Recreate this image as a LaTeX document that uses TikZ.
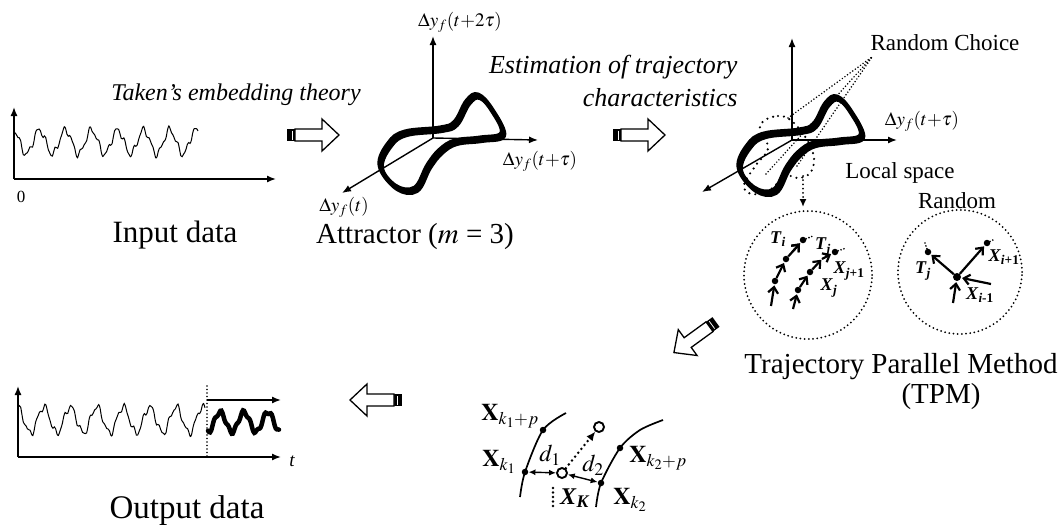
\documentclass[tikz,border=0pt]{standalone}
\usepackage{mathptmx}
\usepackage{fontspec}
\setmainfont{Liberation Serif}
\usetikzlibrary{arrows.meta,calc}

\newcommand{\attractorpath}{plot[smooth cycle,tension=0.65] coordinates {(380,165) (389,143) (405,132) (440,128) (455,122) (467,101) (478,95) (492,110) (502,133) (480,138) (455,141) (440,150) (428,165) (415,188) (395,186)}}

\begin{document}
\begin{tikzpicture}[x=1pt,y=-1pt,
  axis/.style={-{Latex[length=9pt,width=7pt]},line width=1.4pt},
  traj/.style={line width=5pt,line join=round},
  wave/.style={line width=1pt,smooth},
  dots/.style={line width=2pt,line cap=round,dash pattern=on 0pt off 4.2pt},
  tarr/.style={-{Straight Barb[length=6pt,width=10pt,line width=2.2pt]},line width=2.2pt,shorten >=1pt},
  dblarr/.style={{Latex[length=7pt,width=6pt]}-{Latex[length=7pt,width=6pt]},line width=1.4pt},
  pt/.style={circle,fill,inner sep=0pt,minimum size=6.5pt},
  opt/.style={circle,draw,line width=1.9pt,fill=white,inner sep=0pt,minimum size=10pt},
  bigtxt/.style={font=\fontsize{29}{31}\selectfont},
  ittxt/.style={font=\fontsize{24}{33}\selectfont\itshape},
  smtxt/.style={font=\fontsize{23}{25}\selectfont},
  axlbl/.style={font=\fontsize{19}{20}\selectfont},
  ptlbl/.style={font=\fontsize{18}{19}\selectfont,inner sep=0pt},
  xlbl/.style={font=\fontsize{24}{25}\selectfont,inner sep=0pt},
  blockarr/.pic={
    \fill (0,-6) rectangle (8,6);
    \draw[white,line width=0.8pt] (5,-4.5) -- (5,4.5);
    \draw[line width=1.3pt,fill=white,line join=miter] (8,-6) -- (35,-6) -- (35,-16) -- (52,0) -- (35,16) -- (35,6) -- (8,6) -- cycle;
  },
]
\useasboundingbox (0,0) rectangle (1061,525);

% === Input data ===
\coordinate (in0) at (14,179);
\coordinate (inY) at (14,107);
\coordinate (inX) at (276,179);
\draw[axis] (in0) -- (inY);
\draw[axis] (in0) -- (inX);
\draw[wave] plot[domain=14:198,samples=140] (\x,{142-12*sin(13.8*(\x-14)+100)-3*sin(41*\x)-1.5*sin(73*\x+30)});
\node[font=\fontsize{17}{18}\selectfont] (zero) at (21,197) {0};
\node[bigtxt,font=\fontsize{31}{33}\selectfont] (input) at (175,235) {Input data};

% === Takens step ===
\node[ittxt] (takens) at (236,95) {Taken's embedding theory};
\pic at (287,135) {blockarr};

% === Attractor (m = 3) ===
\coordinate (o1) at (433,138);
\coordinate (o1y) at (433,36);
\coordinate (o1x) at (538,140);
\coordinate (o1z) at (342,193);
\draw[axis] (o1) -- (o1y);
\draw[axis] (o1) -- (o1x);
\draw[axis] (o1) -- (o1z);
\draw[traj] \attractorpath;
\draw[traj,line width=4pt,shift={(2,3)}] \attractorpath;
\node[axlbl] (ax2t) at (460,22) {$\Delta y_f(t{+}2\tau)$};
\node[axlbl] (ax1t) at (540,161) {$\Delta y_f(t{+}\tau)$};
\node[axlbl] (ax0t) at (344,207) {$\Delta y_f(t)$};
\node[bigtxt] (attr) at (415,237) {Attractor ($m$ = 3)};

% === Estimation step ===
\node[ittxt,font=\fontsize{26}{33}\selectfont\itshape,align=right,anchor=east] (estim) at (741,81) {Estimation of trajectory\\characteristics};
\pic at (613,135) {blockarr};

% === Local space on the attractor ===
\begin{scope}[shift={(359,2)}]
\coordinate (o2) at (433,138);
\coordinate (o2y) at (433,36);
\coordinate (o2x) at (538,138);
\coordinate (o2z) at (343,190);
\draw[axis] (o2) -- (o2y);
\draw[axis] (o2) -- (o2x);
\draw[axis] (o2) -- (o2z);
\draw[traj] \attractorpath;
\draw[traj,line width=4pt,shift={(2,3)}] \attractorpath;
\end{scope}
\coordinate (apex) at (872,57);
\draw[dots,line width=1.7pt,dash pattern=on 0pt off 3.2pt] (788,118) -- (apex);
\draw[dots,line width=1.7pt,dash pattern=on 0pt off 3.2pt] (766,174) -- (apex);
\draw[dots,line width=1.7pt,dash pattern=on 0pt off 3.2pt] (797,166) -- (apex);
\draw[dots,line width=2.4pt,dash pattern=on 0pt off 6pt] plot[smooth cycle,tension=0.7] coordinates {(760,126) (778,116) (795,124) (812,150) (812,170) (800,178) (785,176) (770,190) (752,194) (744,185) (756,165) (768,148)};
\coordinate (locA) at (803,176);
\coordinate (locB) at (803,207);
\draw[dots,-{Latex[length=8pt,width=7pt]}] (locA) -- (locB);
\node[axlbl] (ax1r) at (922,121) {$\Delta y_f(t{+}\tau)$};
\node[smtxt] (rchoice) at (945,43) {Random Choice};
\node[smtxt] (local) at (900,173) {Local space};
\node[smtxt] (random) at (957,201) {Random};

% === TPM circles ===
\node[draw,dots,circle,minimum size=128pt] (cirL) at (808,275) {};
\node[draw,dots,circle,minimum size=124pt] (cirR) at (960,272) {};
% left circle: two parallel trajectories
\coordinate (i0) at (771,306);
\node[pt] (i1) at (775,281) {};
\node[pt] (i2) at (786,259) {};
\node[pt] (i3) at (803,240) {};
\draw[tarr] (i0) -- (i1);
\draw[tarr] (i1) -- (i2);
\draw[tarr] (i2) -- (i3);
\draw[tarr] ($(i2)!0.4!(i3)$) -- (i3);
\draw[dots,line width=1.8pt,dash pattern=on 0pt off 3pt] (i3) -- ++(10,-4);
\coordinate (j0) at (793,309);
\node[pt] (j1) at (798,290) {};
\node[pt] (j2) at (810,272) {};
\coordinate (j3) at (822,259);
\node[pt] (j4) at (835,252) {};
\draw[tarr] (j0) -- (j1);
\draw[tarr] (j1) -- (j2);
\draw[tarr] (j2) -- (j3);
\draw[tarr] (j3) -- (j4);
\draw[dots,line width=1.8pt,dash pattern=on 0pt off 3pt] (j4) -- ++(11,-4);
\node[ptlbl] (Ti) at (778,239) {\textbf{\textit{T}}\textsubscript{\textbf{\textit{i}}}};
\node[ptlbl] (Tj) at (823,247) {\textbf{\textit{T}}\textsubscript{\textbf{\textit{j}}}};
\node[ptlbl] (Xj1) at (849,271) {\textbf{\textit{X}}\textsubscript{\textbf{\textit{j}+1}}};
\node[ptlbl] (Xj) at (829,288) {\textbf{\textit{X}}\textsubscript{\textbf{\textit{j}}}};
% right circle: random neighbours
\node[pt,minimum size=8pt] (c0) at (957,277) {};
\node[pt] (cT) at (928,252) {};
\node[pt] (cX) at (987,243) {};
\coordinate (cR) at (991,284);
\coordinate (cB) at (953,303);
\draw[tarr] (c0) -- (cT);
\draw[tarr] (c0) -- (cX);
\draw[tarr] (cR) -- (c0);
\draw[tarr] (cB) -- (c0);
\draw[dots,line width=1.8pt,dash pattern=on 0pt off 3pt] (cT) -- ++(-3,-9);
\draw[dots,line width=1.8pt,dash pattern=on 0pt off 3pt] (cX) -- ++(6,-3);
\node[ptlbl] (Tj2) at (923,271) {\textbf{\textit{T}}\textsubscript{\textbf{\textit{j}}}};
\node[ptlbl] (Xi1) at (1004,257) {\textbf{\textit{X}}\textsubscript{\textbf{\textit{i}+1}}};
\node[ptlbl] (Xim) at (980,295) {\textbf{\textit{X}}\textsubscript{\textbf{\textit{i}-1}}};
\node[bigtxt] (tpm) at (901,367) {Trajectory Parallel Method};
\node[bigtxt] (tpmb) at (941,397) {(TPM)};

\pic[rotate=216] at (716,322) {blockarr};

% === Prediction from neighbours ===
\draw[line width=1.7pt] plot[smooth] coordinates {(520,497) (525,472) (543,430) (566,413)};
\draw[line width=1.7pt] plot[smooth] coordinates {(596,507) (601,483) (620,448) (640,430) (663,420)};
\node[pt] (k1) at (525,472) {};
\node[pt] (k1p) at (543,430) {};
\node[pt] (k2) at (601,483) {};
\node[pt] (k2p) at (620,448) {};
\node[opt] (XK) at (562,473) {};
\node[opt] (Xnext) at (599,427) {};
\draw[dots,line width=2.8pt,dash pattern=on 0pt off 5pt,-{Latex[length=9pt,width=8pt]}] (XK) -- (Xnext);
\coordinate (kin0) at (553,488);
\coordinate (kin1) at (553,507);
\draw[dots,line width=2.8pt,dash pattern=on 0pt off 4.5pt] (kin0) -- (kin1);
\draw[dblarr] (k1) -- (XK);
\draw[dblarr] (XK) -- (k2);
\node[xlbl] (d1) at (550,455) {$d_1$};
\node[xlbl] (d2) at (593,465) {$d_2$};
\node[xlbl] (lk1p) at (510,416) {$\mathbf{X}_{k_1+p}$};
\node[xlbl] (lk1) at (499,462) {$\mathbf{X}_{k_1}$};
\node[xlbl] (lK) at (575,498) {\textbf{\textit{X}}\textsubscript{\textbf{\textit{K}}}};
\node[xlbl] (lk2p) at (658,458) {$\mathbf{X}_{k_2+p}$};
\node[xlbl] (lk2) at (630,500) {$\mathbf{X}_{k_2}$};

\pic[rotate=180] at (402,400) {blockarr};

% === Output data ===
\coordinate (out0) at (18,457);
\coordinate (outY) at (18,386);
\coordinate (outX) at (281,457);
\draw[axis] (out0) -- (outY);
\draw[axis] (out0) -- (outX);
\draw[wave] plot[domain=18:205,samples=140] (\x,{420-13*sin(13.6*(\x-18)+100)-3*sin(41*\x)-1.5*sin(73*\x+30)});
\coordinate (split0) at (207,386);
\coordinate (split1) at (207,457);
\draw[dots,line width=1.8pt,dash pattern=on 0pt off 3.5pt] (split0) -- (split1);
\coordinate (fc0) at (207,400);
\coordinate (fc1) at (281,400);
\draw[axis] (fc0) -- (fc1);
\draw[line width=4.5pt,line cap=round,smooth] plot[domain=208:279,samples=70] (\x,{422+10*sin(15*(\x-208)+90)+2*sin(50*\x)});
\node[font=\fontsize{19}{20}\selectfont\itshape] (tlbl) at (292,461) {t};
\node[font=\fontsize{33}{35}\selectfont] (output) at (187,511) {Output data};
\end{tikzpicture}
\end{document}
